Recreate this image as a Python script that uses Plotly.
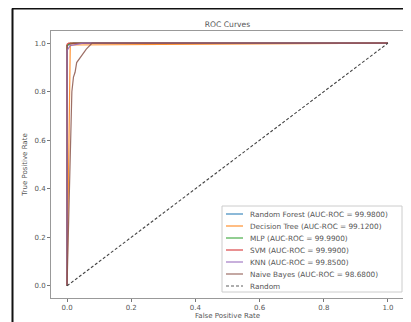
import plotly.graph_objects as go

# ---- data ----
model_names = ["Random Forest", "Decision Tree", "MLP", "SVM", "KNN", "Naive Bayes"]
auc_scores = [99.98, 99.12, 99.99, 99.99, 99.85, 98.68]
model_colors = ["#1f77b4", "#ff7f0e", "#2ca02c", "#d62728", "#9467bd", "#8c564b"]

rf_fpr = [0.0, 0.0, 0.02, 1.0]
rf_tpr = [0.0, 0.99, 1.0, 1.0]
dt_fpr = [0.0, 0.01, 1.0]
dt_tpr = [0.0, 0.9924, 1.0]
mlp_fpr = [0.0, 0.0, 0.01, 1.0]
mlp_tpr = [0.0, 0.99, 1.0, 1.0]
svm_fpr = [0.0, 0.0, 0.005, 1.0]
svm_tpr = [0.0, 0.995, 1.0, 1.0]
knn_fpr = [0.0, 0.0, 0.01, 0.05, 1.0]
knn_tpr = [0.0, 0.97, 0.99, 1.0, 1.0]
nb_fpr = [0.0, 0.015, 0.02, 0.025, 0.03, 0.04, 0.05, 0.06, 0.078, 1.0]
nb_tpr = [0.0, 0.80, 0.86, 0.88, 0.92, 0.94, 0.96, 0.975, 1.0, 1.0]
rand_fpr = [0.0, 1.0]
rand_tpr = [0.0, 1.0]

x_ticks = [0.0, 0.2, 0.4, 0.6, 0.8, 1.0]
y_ticks = [0.0, 0.2, 0.4, 0.6, 0.8, 1.0]

curves = [(rf_fpr, rf_tpr), (dt_fpr, dt_tpr), (mlp_fpr, mlp_tpr),
          (svm_fpr, svm_tpr), (knn_fpr, knn_tpr), (nb_fpr, nb_tpr)]

# ---- figure geometry (page body has an 8px margin) ----
OFF = 8
W, H = 403, 314
ML, MR, MT, MB = 43, 7, 23, 24
PW, PH = W - ML - MR, H - MT - MB


def px2x(px):
    return (px - OFF - ML) / PW


def px2y(py):
    return (H - MB - (py - OFF)) / PH


FONT = "DejaVu Sans"
TXT = "#555555"

fig = go.Figure()
labels = []
for name, a, c, (fx, ty) in zip(model_names, auc_scores, model_colors, curves):
    lab = f"{name} (AUC-ROC = {a:.4f})"
    labels.append((lab, c, "solid"))
    fig.add_trace(go.Scatter(x=fx, y=ty, mode="lines", name=lab, opacity=0.85,
                             line=dict(color=c, width=1.2), showlegend=False))
fig.add_trace(go.Scatter(x=rand_fpr, y=rand_tpr, mode="lines", name="Random",
                         line=dict(color="#444444", width=1.1, dash="3px,2px"),
                         showlegend=False))
labels.append(("Random", "#444444", "3px,2px"))

# ---- legend drawn as shapes + text ----
shapes = []
annotations = []
shapes.append(dict(type="rect", xref="paper", yref="paper",
                   x0=px2x(222), x1=px2x(402), y0=px2y(292), y1=px2y(206),
                   line=dict(color="#cccccc", width=1), fillcolor="rgba(255,255,255,0.9)",
                   layer="above"))
for i, (lab, c, dsh) in enumerate(labels):
    yy = 214 + 12 * i
    shapes.append(dict(type="line", xref="paper", yref="paper",
                       x0=px2x(226), x1=px2x(243), y0=px2y(yy), y1=px2y(yy),
                       line=dict(color=c, width=1.2, dash=dsh), opacity=0.85, layer="above"))
    annotations.append(dict(text=lab, xref="paper", yref="paper",
                            x=px2x(248), y=px2y(yy), xanchor="left", yanchor="middle",
                            showarrow=False, font=dict(family=FONT, size=7.3, color=TXT)))

# page border from the screenshot (document frame)
shapes.append(dict(type="line", xref="paper", yref="paper",
                   x0=px2x(12.5), x1=px2x(12.5), y0=px2y(340), y1=px2y(8.5),
                   line=dict(color="#111111", width=2)))
shapes.append(dict(type="line", xref="paper", yref="paper",
                   x0=px2x(12), x1=px2x(430), y0=px2y(8.5), y1=px2y(8.5),
                   line=dict(color="#111111", width=2)))

axis_common = dict(showgrid=False, zeroline=False, showline=True, mirror=True,
                   linecolor="#999999", linewidth=1, ticks="outside", ticklen=3,
                   tickcolor="#777777", tickfont=dict(family=FONT, size=7, color=TXT))

fig.update_layout(
    width=W, height=H,
    margin=dict(l=ML, r=MR, t=MT, b=MB, autoexpand=False),
    paper_bgcolor="white", plot_bgcolor="white",
    title=dict(text="ROC Curves", x=0.5, xref="paper", y=1 - (24 - OFF) / H, yanchor="middle",
               font=dict(family=FONT, size=7.6, color=TXT)),
    xaxis=dict(range=[-0.05, 1.05], tickvals=x_ticks, ticktext=[f"{v:.1f}" for v in x_ticks],
               title=dict(text="False Positive Rate", standoff=1,
                          font=dict(family=FONT, size=7, color=TXT)),
               **axis_common),
    yaxis=dict(range=[-0.05, 1.05], tickvals=y_ticks, ticktext=[f"{v:.1f}" for v in y_ticks],
               title=dict(text="True Positive Rate", standoff=6,
                          font=dict(family=FONT, size=7, color=TXT)),
               **axis_common),
    shapes=shapes, annotations=annotations,
    showlegend=False,
)

fig.write_html("out.html")
